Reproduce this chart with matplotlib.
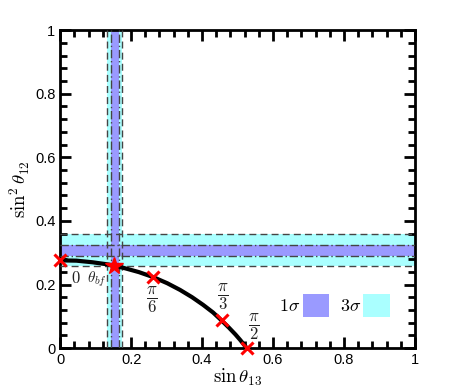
import numpy as np
import matplotlib
matplotlib.use("Agg")
import matplotlib.pyplot as plt
from matplotlib.ticker import MultipleLocator, FormatStrFormatter

plt.rcParams['mathtext.fontset'] = 'cm'
plt.rcParams['font.family'] = ['Liberation Sans', 'DejaVu Sans']

# curve: (sin th13, sin^2 th12)
curve_x = [0.0, 0.046, 0.091, 0.136, 0.180, 0.222, 0.263, 0.302, 0.338, 0.372,
           0.403, 0.431, 0.455, 0.476, 0.494, 0.508, 0.518, 0.524, 0.526]
curve_y = [0.276, 0.275, 0.270, 0.263, 0.252, 0.239, 0.223, 0.204, 0.183, 0.160,
           0.136, 0.112, 0.087, 0.064, 0.043, 0.025, 0.011, 0.003, 0.0]

# special points theta = 0, pi/6, pi/3, pi/2
cross_x = [0.0, 0.263, 0.455, 0.526]
cross_y = [0.276, 0.223, 0.087, 0.0]
cross_lab = ['$0$', r'$\dfrac{\pi}{6}$', r'$\dfrac{\pi}{3}$', r'$\dfrac{\pi}{2}$']
lab_x = [0.045, 0.258, 0.459, 0.545]
lab_y = [0.222, 0.152, 0.160, 0.067]

# best fit
bf_x, bf_y = 0.151, 0.259

# allowed ranges
s13_1sig = (0.143, 0.165)
s13_3sig = (0.132, 0.174)
s12_1sig = (0.289, 0.325)
s12_3sig = (0.259, 0.359)

blue = '#9a9aff'
cyan = '#aaffff'

fig = plt.figure(figsize=(4.59, 3.92), dpi=100)
ax = fig.add_axes([0.131, 0.112, 0.773, 0.811])

ax.axvspan(*s13_3sig, color=cyan, lw=0, zorder=1)
ax.axhspan(*s12_3sig, color=cyan, lw=0, zorder=1)
ax.axvspan(*s13_1sig, color=blue, lw=0, zorder=2)
ax.axhspan(*s12_1sig, color=blue, lw=0, zorder=2)
for v in s13_3sig:
    ax.axvline(v, color='#444444', ls=(0, (5, 3)), lw=1, zorder=3)
for v in s12_3sig:
    ax.axhline(v, color='#444444', ls=(0, (5, 3)), lw=1, zorder=3)
for v in s13_1sig:
    ax.axvline(v, color='#444444', ls=(0, (6, 2, 1, 2)), lw=1, zorder=3)
for v in s12_1sig:
    ax.axhline(v, color='#444444', ls=(0, (6, 2, 1, 2)), lw=1, zorder=3)

ax.plot(curve_x, curve_y, color='black', lw=3, solid_capstyle='butt', zorder=4)
ax.plot(cross_x, cross_y, 'x', color='red', ms=9, mew=2.2, zorder=5, clip_on=False)
ax.plot(bf_x, bf_y, '*', color='red', ms=13, mec='red', zorder=5)

for t, x, y in zip(cross_lab, lab_x, lab_y):
    ax.text(x, y, t, fontsize=12, ha='center', va='center', color='#222222')
ax.text(0.103, 0.218, r'$\theta_{bf}$', fontsize=11, ha='center', va='center', color='#222222')

# legend boxes
ax.text(0.648, 0.131, r'$1\sigma$', fontsize=13, ha='center', va='center')
ax.add_patch(plt.Rectangle((0.684, 0.097), 0.074, 0.072, color=blue, lw=0))
ax.text(0.818, 0.131, r'$3\sigma$', fontsize=13, ha='center', va='center')
ax.add_patch(plt.Rectangle((0.855, 0.097), 0.074, 0.072, color=cyan, lw=0))

ax.set_xlim(0, 1)
ax.set_ylim(0, 1)
ax.xaxis.set_major_locator(MultipleLocator(0.2))
ax.xaxis.set_minor_locator(MultipleLocator(0.04))
ax.yaxis.set_major_locator(MultipleLocator(0.2))
ax.yaxis.set_minor_locator(MultipleLocator(0.04))
fmt = lambda v, p: ('%g' % round(v, 2))
ax.xaxis.set_major_formatter(plt.FuncFormatter(fmt))
ax.yaxis.set_major_formatter(plt.FuncFormatter(fmt))
ax.tick_params(which='both', direction='in', top=True, right=True, labelsize=10.5)
ax.tick_params(which='major', length=8, width=2)
ax.tick_params(which='minor', length=5, width=2)
for s in ax.spines.values():
    s.set_linewidth(2)

ax.set_xlabel(r'$\sin\theta_{13}$', fontsize=13.5, labelpad=0)
ax.set_ylabel(r'$\sin^2\theta_{12}$', fontsize=13.5, labelpad=2)

fig.savefig('out.png', dpi=100)
